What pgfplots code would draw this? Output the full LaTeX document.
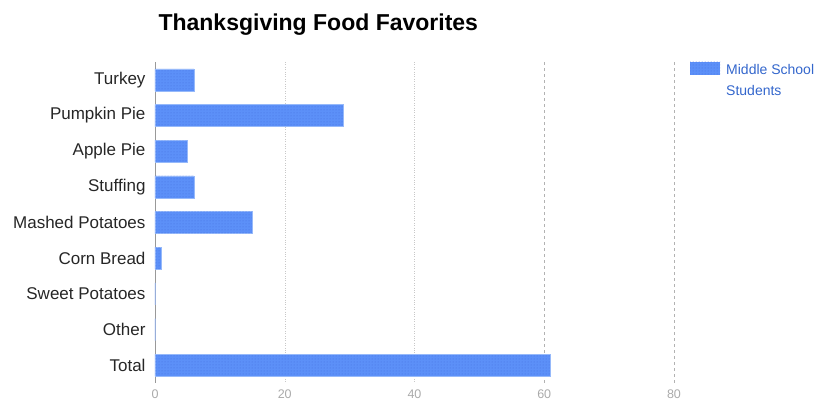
\documentclass[border=0pt]{standalone}
\usepackage{pgfplots}
\pgfplotsset{compat=1.18}
\usepackage{fontspec}
\setmainfont{Liberation Sans}
\usetikzlibrary{patterns}

\definecolor{barblue}{RGB}{92,144,248}
\definecolor{barline}{RGB}{150,185,250}
\definecolor{dotblue}{RGB}{60,95,215}
\definecolor{legtext}{RGB}{51,102,204}
\definecolor{gridgray}{RGB}{200,200,200}
\definecolor{ticktext}{RGB}{170,170,170}

\begin{document}
\begin{tikzpicture}[x=1pt,y=1pt]
\clip (0,0) rectangle (817,404);
\begin{axis}[
    at={(155pt,21pt)}, anchor=south west,
    scale only axis,
    width=519pt, height=321pt,
    xmin=0, xmax=80,
    ymin=-0.5, ymax=8.5,
    y dir=reverse,
    axis lines*=left,
    x axis line style={draw=none},
    y axis line style={draw=gray!80},
    xtick={0,20,40},
    extra x ticks={60,80},
    extra x tick style={grid style={dashed, draw=gray!60, line width=0.8pt}},
    xmajorgrids=true,
    grid style={dotted, draw=gridgray},
    major tick length=0pt,
    ytick={0,...,8},
    yticklabels={Turkey, Pumpkin Pie, Apple Pie, Stuffing, Mashed Potatoes, Corn Bread, Sweet Potatoes, Other, Total},
    y tick label style={font=\fontsize{17}{19}\selectfont, text=black!85, xshift=-6pt},
    x tick label style={font=\fontsize{12.5}{14}\selectfont, text=ticktext, yshift=-3pt},
    /pgf/number format/assume math mode=true,
    xbar, bar width=22pt, bar shift=0pt,
    clip=false,
]
\addplot[fill=barblue, draw=barline, line width=0.6pt] coordinates {
    (6,0)
    (29,1)
    (5,2)
    (6,3)
    (15,4)
    (1,5)
    (0,6)
    (0,7)
    (61,8)
};
\addplot[pattern=dots, pattern color=dotblue!70!barblue, draw=none, forget plot] coordinates {
    (6,0)
    (29,1)
    (5,2)
    (6,3)
    (15,4)
    (1,5)
    (0,6)
    (0,7)
    (61,8)
};
\end{axis}
% title and legend
\node[anchor=base west, font=\bfseries\fontsize{23}{26}\selectfont] at (155,373) {Thanksgiving Food Favorites};
\fill[barblue] (690,329) rectangle (720,342);
\fill[pattern=dots, pattern color=dotblue!70!barblue] (690,329) rectangle (720,342);
\node[anchor=base west, inner xsep=0pt, font=\fontsize{14}{16}\selectfont, text=legtext] at (726,329) {Middle School};
\node[anchor=base west, inner xsep=0pt, font=\fontsize{14}{16}\selectfont, text=legtext] at (726,308) {Students};
\end{tikzpicture}
\end{document}
